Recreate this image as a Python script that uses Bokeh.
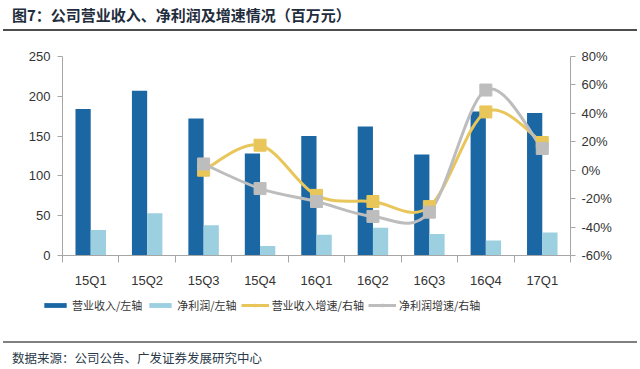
from bokeh.plotting import figure
from bokeh.models import (Range1d, LinearAxis, FixedTicker, PrintfTickFormatter,
                          Legend, LegendItem, ColumnDataSource, Div)
from bokeh.layouts import column
from bokeh.transform import dodge
from bokeh.embed import file_html
from bokeh.resources import INLINE

# ---- data ----
categories = ["15Q1", "15Q2", "15Q3", "15Q4", "16Q1", "16Q2", "16Q3", "16Q4", "17Q1"]
revenue = [184, 207, 172, 128, 150, 162, 127, 181, 179]
net_profit = [32, 53, 38, 12, 26, 35, 27, 19, 29]
growth_cats = ["15Q3", "15Q4", "16Q1", "16Q2", "16Q3", "16Q4", "17Q1"]
revenue_growth = [0.0, 17.6, -17.7, -22.0, -25.6, 41.0, 19.5]
profit_growth = [4.4, -12.9, -22.0, -32.5, -29.5, 56.4, 15.3]
left_ticks = [0, 50, 100, 150, 200, 250]
right_ticks = [-60, -40, -20, 0, 20, 40, 60, 80]
legend_labels = ["营业收入/左轴", "净利润/左轴", "营业收入增速/右轴", "净利润增速/右轴"]

CJK = "Noto Sans CJK SC"
LAT = "Liberation Sans"
DARK = "#1A67A3"
LIGHT = "#9CCFE0"
YEL = "#E8C65A"
GRAY = "#BDBDBD"
AX = "#A6A6A6"

xi = list(range(len(categories)))
gx = [categories.index(c) for c in growth_cats]

p = figure(width=640, height=259, output_backend="svg", toolbar_location=None,
           x_range=Range1d(-0.5, len(categories) - 0.5), y_range=Range1d(0, 250),
           min_border_left=62, min_border_right=70, min_border_top=25, min_border_bottom=32)
p.outline_line_color = None
p.xgrid.visible = False
p.ygrid.visible = False
p.extra_y_ranges = {"right": Range1d(-60, 80)}
p.frame_align = False

bw = 0.27
src = ColumnDataSource(dict(x=xi, rev=revenue, np=net_profit))
p.vbar(x=dodge("x", -bw / 2), top="rev", width=bw, source=src,
       fill_color=DARK, line_color=None)
p.vbar(x=dodge("x", bw / 2), top="np", width=bw, source=src,
       fill_color=LIGHT, line_color=None)


def bez(xs, ys, t=1.0 / 6):
    n = len(xs)
    d = dict(x0=[], y0=[], x1=[], y1=[], cx0=[], cy0=[], cx1=[], cy1=[])
    for i in range(n - 1):
        a = i - 1 if i > 0 else i
        b = i + 2 if i + 2 < n else i + 1
        d["x0"].append(xs[i]); d["y0"].append(ys[i])
        d["x1"].append(xs[i + 1]); d["y1"].append(ys[i + 1])
        d["cx0"].append(xs[i] + (xs[i + 1] - xs[a]) * t)
        d["cy0"].append(ys[i] + (ys[i + 1] - ys[a]) * t)
        d["cx1"].append(xs[i + 1] - (xs[b] - xs[i]) * t)
        d["cy1"].append(ys[i + 1] - (ys[b] - ys[i]) * t)
    return ColumnDataSource(d)


p.bezier(x0="x0", y0="y0", x1="x1", y1="y1", cx0="cx0", cy0="cy0",
         cx1="cx1", cy1="cy1", source=bez(gx, revenue_growth),
         line_color=YEL, line_width=3, y_range_name="right")
p.bezier(x0="x0", y0="y0", x1="x1", y1="y1", cx0="cx0", cy0="cy0",
         cx1="cx1", cy1="cy1", source=bez(gx, profit_growth),
         line_color=GRAY, line_width=3, y_range_name="right")
p.scatter(gx, revenue_growth, marker="square", size=12, fill_color=YEL,
          line_color=YEL, y_range_name="right")
p.scatter(gx, profit_growth, marker="square", size=12, fill_color=GRAY,
          line_color=GRAY, y_range_name="right")

# x axis
xa = p.xaxis[0]
xa.ticker = FixedTicker(ticks=xi, minor_ticks=[i - 0.5 for i in range(len(categories) + 1)])
xa.major_label_overrides = {i: c for i, c in enumerate(categories)}
xa.major_tick_out = 0
xa.major_tick_in = 0
xa.minor_tick_out = 7
xa.minor_tick_in = 0
xa.minor_tick_line_color = AX
xa.axis_line_color = AX
xa.major_label_standoff = 10
xa.major_label_text_font = LAT
xa.major_label_text_font_size = "13px"
xa.major_label_text_color = "#333333"

# left axis
ya = p.yaxis[0]
ya.ticker = FixedTicker(ticks=left_ticks)
ya.minor_tick_line_color = None
ya.major_tick_out = 5
ya.major_tick_in = 0
ya.major_tick_line_color = AX
ya.axis_line_color = AX
ya.major_label_standoff = 7
ya.major_label_text_font = LAT
ya.major_label_text_font_size = "13px"
ya.major_label_text_color = "#333333"

# right axis
ra = LinearAxis(y_range_name="right", ticker=FixedTicker(ticks=right_ticks),
                formatter=PrintfTickFormatter(format="%d%%"))
ra.minor_tick_line_color = None
ra.major_tick_out = 5
ra.major_tick_in = 0
ra.major_tick_line_color = AX
ra.axis_line_color = AX
ra.major_label_standoff = 6
ra.major_label_text_font = LAT
ra.major_label_text_font_size = "13px"
ra.major_label_text_color = "#333333"
p.add_layout(ra, "right")

# ---- legend strip (separate small figure; its ranges keep the series out of view) ----
lf = figure(width=640, height=51, output_backend="svg", toolbar_location=None,
            x_range=Range1d(-200, -199), y_range=Range1d(-1000, -999),
            x_axis_location=None, y_axis_location=None,
            min_border_left=0, min_border_right=0, min_border_top=0, min_border_bottom=0)
lf.outline_line_color = None
lf.xgrid.visible = False
lf.ygrid.visible = False
lf.frame_align = False
g1 = lf.vbar(x="x", top="rev", width=bw, source=src, fill_color=DARK, line_color=None)
g2 = lf.vbar(x="x", top="np", width=bw, source=src, fill_color=LIGHT, line_color=None)
g3l = lf.line(gx, revenue_growth, line_color=YEL, line_width=3)
g3m = lf.scatter(gx, revenue_growth, marker="square", size=12, fill_color=YEL, line_color=YEL)
g4l = lf.line(gx, profit_growth, line_color=GRAY, line_width=3)
g4m = lf.scatter(gx, profit_growth, marker="square", size=12, fill_color=GRAY, line_color=GRAY)

legend = Legend(items=[
    LegendItem(label=legend_labels[0], renderers=[g1]),
    LegendItem(label=legend_labels[1], renderers=[g2]),
    LegendItem(label=legend_labels[2], renderers=[g3l, g3m]),
    LegendItem(label=legend_labels[3], renderers=[g4l, g4m]),
], orientation="horizontal", location=(41, 28))
legend.label_text_font = CJK
legend.label_text_font_size = "11px"
legend.label_text_color = "#333333"
legend.glyph_width = 28
legend.glyph_height = 6
legend.label_height = 16
legend.label_standoff = 3
legend.spacing = 4
legend.padding = 0
legend.margin = 0
legend.border_line_color = None
legend.background_fill_alpha = 0
lf.add_layout(legend)

title = Div(text=('<div style="font-family:\'Noto Sans CJK SC\';font-weight:bold;font-size:15px;'
                  'line-height:15px;color:#1F2D3D;padding-left:9px;padding-top:7px;width:634px;'
                  'margin-left:3px;height:31px;box-sizing:border-box;border-bottom:2px solid #4D4D4D;">'
                  '图7：公司营业收入、净利润及增速情况（百万元）</div>'),
            width=640, height=31, margin=0)
source = Div(text=('<div style="font-family:\'Noto Sans CJK SC\';font-size:12.5px;line-height:13px;'
                   'color:#2A3A4A;padding-left:9px;padding-top:8px;width:634px;margin-left:3px;'
                   'box-sizing:border-box;border-top:2px solid #808080;">'
                   '数据来源：公司公告、广发证券发展研究中心</div>'),
             width=640, height=28, margin=0)

layout = column(title, p, lf, source, spacing=0)
open("out.html", "w").write(file_html(layout, INLINE))
